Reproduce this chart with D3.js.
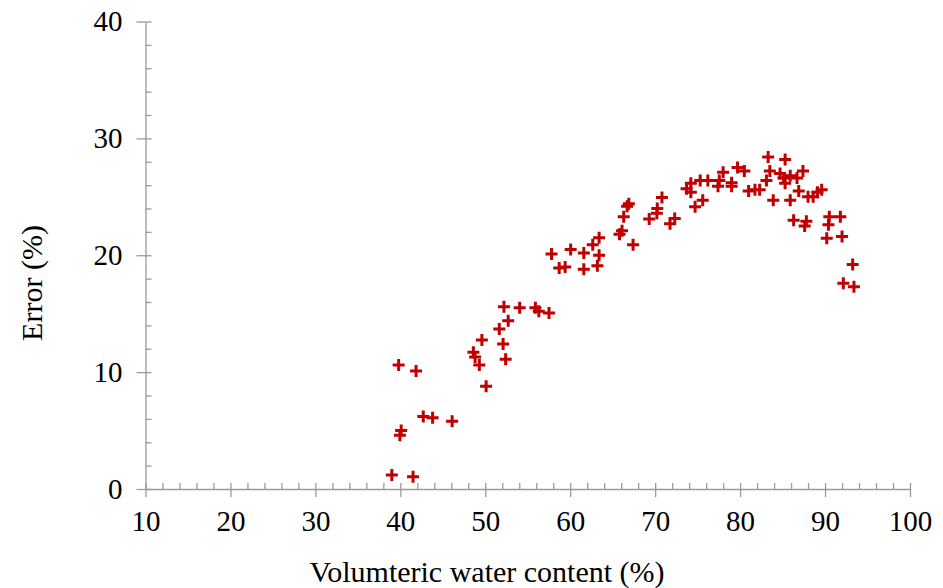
<!DOCTYPE html>
<meta charset="utf-8">
<style>
    body { margin: 0; background: #fff; }
    text { font-family: "Liberation Serif", "Times New Roman", serif; fill: #000; }
    .axis path, .axis line { stroke: #9a9a9a; stroke-width: 1.3; fill: none; }
    path.mark { stroke: #c00000; stroke-width: 3; fill: none; }
</style>
<body>
<script src="https://cdn.jsdelivr.net/npm/d3@7"></script>
<script>

    // volumetric water content (%) and error (%)
    var waterContent = [39.0, 41.5, 39.8, 41.85, 40.1, 39.95, 42.7, 43.8, 46.1, 48.6,
        48.8, 49.3, 49.6, 50.1, 51.65, 52.1, 52.4, 52.7, 52.2, 54.05,
        55.9, 56.3, 57.5, 57.8, 58.7, 59.4, 60.05, 61.6, 61.6, 62.65,
        63.4, 63.4, 63.2, 65.8, 66.1, 66.3, 66.7, 66.9, 67.4, 69.3,
        70.2, 70.25, 70.8, 71.75, 72.3, 73.7, 74.2, 74.2, 74.7, 75.6,
        75.3, 76.2, 77.4, 77.55, 78.0, 79.0, 79.0, 79.7, 80.5, 81.0,
        81.75, 82.3, 83.1, 83.3, 83.5, 83.9, 84.7, 85.1, 85.3, 85.3,
        85.9, 85.9, 86.3, 86.7, 86.9, 87.4, 87.6, 87.8, 88.0, 88.6,
        89.1, 89.6, 90.2, 90.4, 90.5, 91.8, 92.0, 92.15, 93.25, 93.4];
    var errorPct = [1.2, 1.05, 10.6, 10.1, 5.0, 4.6, 6.2, 6.1, 5.8, 11.7,
        11.3, 10.6, 12.75, 8.8, 13.7, 12.4, 11.1, 14.4, 15.6, 15.5,
        15.5, 15.2, 15.05, 20.1, 18.9, 19.0, 20.5, 20.2, 18.8, 20.9,
        21.5, 20.0, 19.1, 21.8, 22.1, 23.3, 24.2, 24.4, 20.9, 23.1,
        23.6, 24.0, 24.95, 22.7, 23.15, 25.7, 26.15, 25.4, 24.15, 24.7,
        26.4, 26.4, 25.9, 26.4, 27.1, 26.2, 25.9, 27.5, 27.2, 25.5,
        25.6, 25.6, 26.4, 28.4, 27.2, 24.7, 27.0, 26.6, 28.2, 26.15,
        26.8, 24.7, 23.0, 26.6, 25.5, 27.2, 22.5, 22.9, 25.0, 25.0,
        25.4, 25.6, 21.45, 22.6, 23.3, 23.3, 21.6, 17.6, 19.2, 17.3];

    var xTicks = [10, 20, 30, 40, 50, 60, 70, 80, 90, 100];
    var yTicks = [0, 10, 20, 30, 40];
    var xMinor = d3.range(10, 100.1, 2);
    var yMinor = d3.range(0, 40.1, 2);

    var width = 943, height = 588;
    var x = d3.scaleLinear().domain([10, 100]).range([145.5, 910]);
    var y = d3.scaleLinear().domain([0, 40]).range([489, 21.5]);

    var svg = d3.select("body").append("svg")
            .attr("width", width)
            .attr("height", height);

    // minor ticks point inward, major ticks cross the axis
    var xAxisG = svg.append("g")
            .attr("class", "x axis")
            .attr("transform", "translate(0," + y(0) + ")");
    xAxisG.call(d3.axisTop(x).tickValues(xMinor).tickSize(6).tickFormat("").tickSizeOuter(0));
    xAxisG.append("g")
            .call(d3.axisBottom(x).tickValues(xTicks).tickSize(8).tickSizeOuter(0).tickPadding(13))
            .call(function(g) { g.select(".domain").remove(); });
    xAxisG.selectAll(".tick text").attr("font-size", 29).style("font-family", "Liberation Serif");

    var yAxisG = svg.append("g")
            .attr("class", "y axis")
            .attr("transform", "translate(" + x(10) + ",0)");
    yAxisG.call(d3.axisRight(y).tickValues(yMinor).tickSize(6).tickFormat("").tickSizeOuter(0));
    yAxisG.append("g")
            .call(d3.axisLeft(y).tickValues(yTicks).tickSize(9).tickSizeOuter(0).tickPadding(14))
            .call(function(g) { g.select(".domain").remove(); });
    yAxisG.selectAll(".tick text").attr("font-size", 29).style("font-family", "Liberation Serif");

    // plus markers
    var plus = "M-6,0H6M0,-6V6";
    svg.append("g").selectAll("path")
            .data(d3.range(waterContent.length))
        .enter().append("path")
            .attr("class", "mark")
            .attr("d", plus)
            .attr("transform", function(i) {
                return "translate(" + x(waterContent[i]) + "," + y(errorPct[i]) + ")";
            });

    svg.append("text")
            .attr("x", 487)
            .attr("y", 582)
            .attr("text-anchor", "middle")
            .attr("font-size", 30)
            .text("Volumteric water content (%)");

    svg.append("text")
            .attr("transform", "translate(42,283) rotate(-90)")
            .attr("text-anchor", "middle")
            .attr("font-size", 30)
            .text("Error (%)");

</script>
</body>
